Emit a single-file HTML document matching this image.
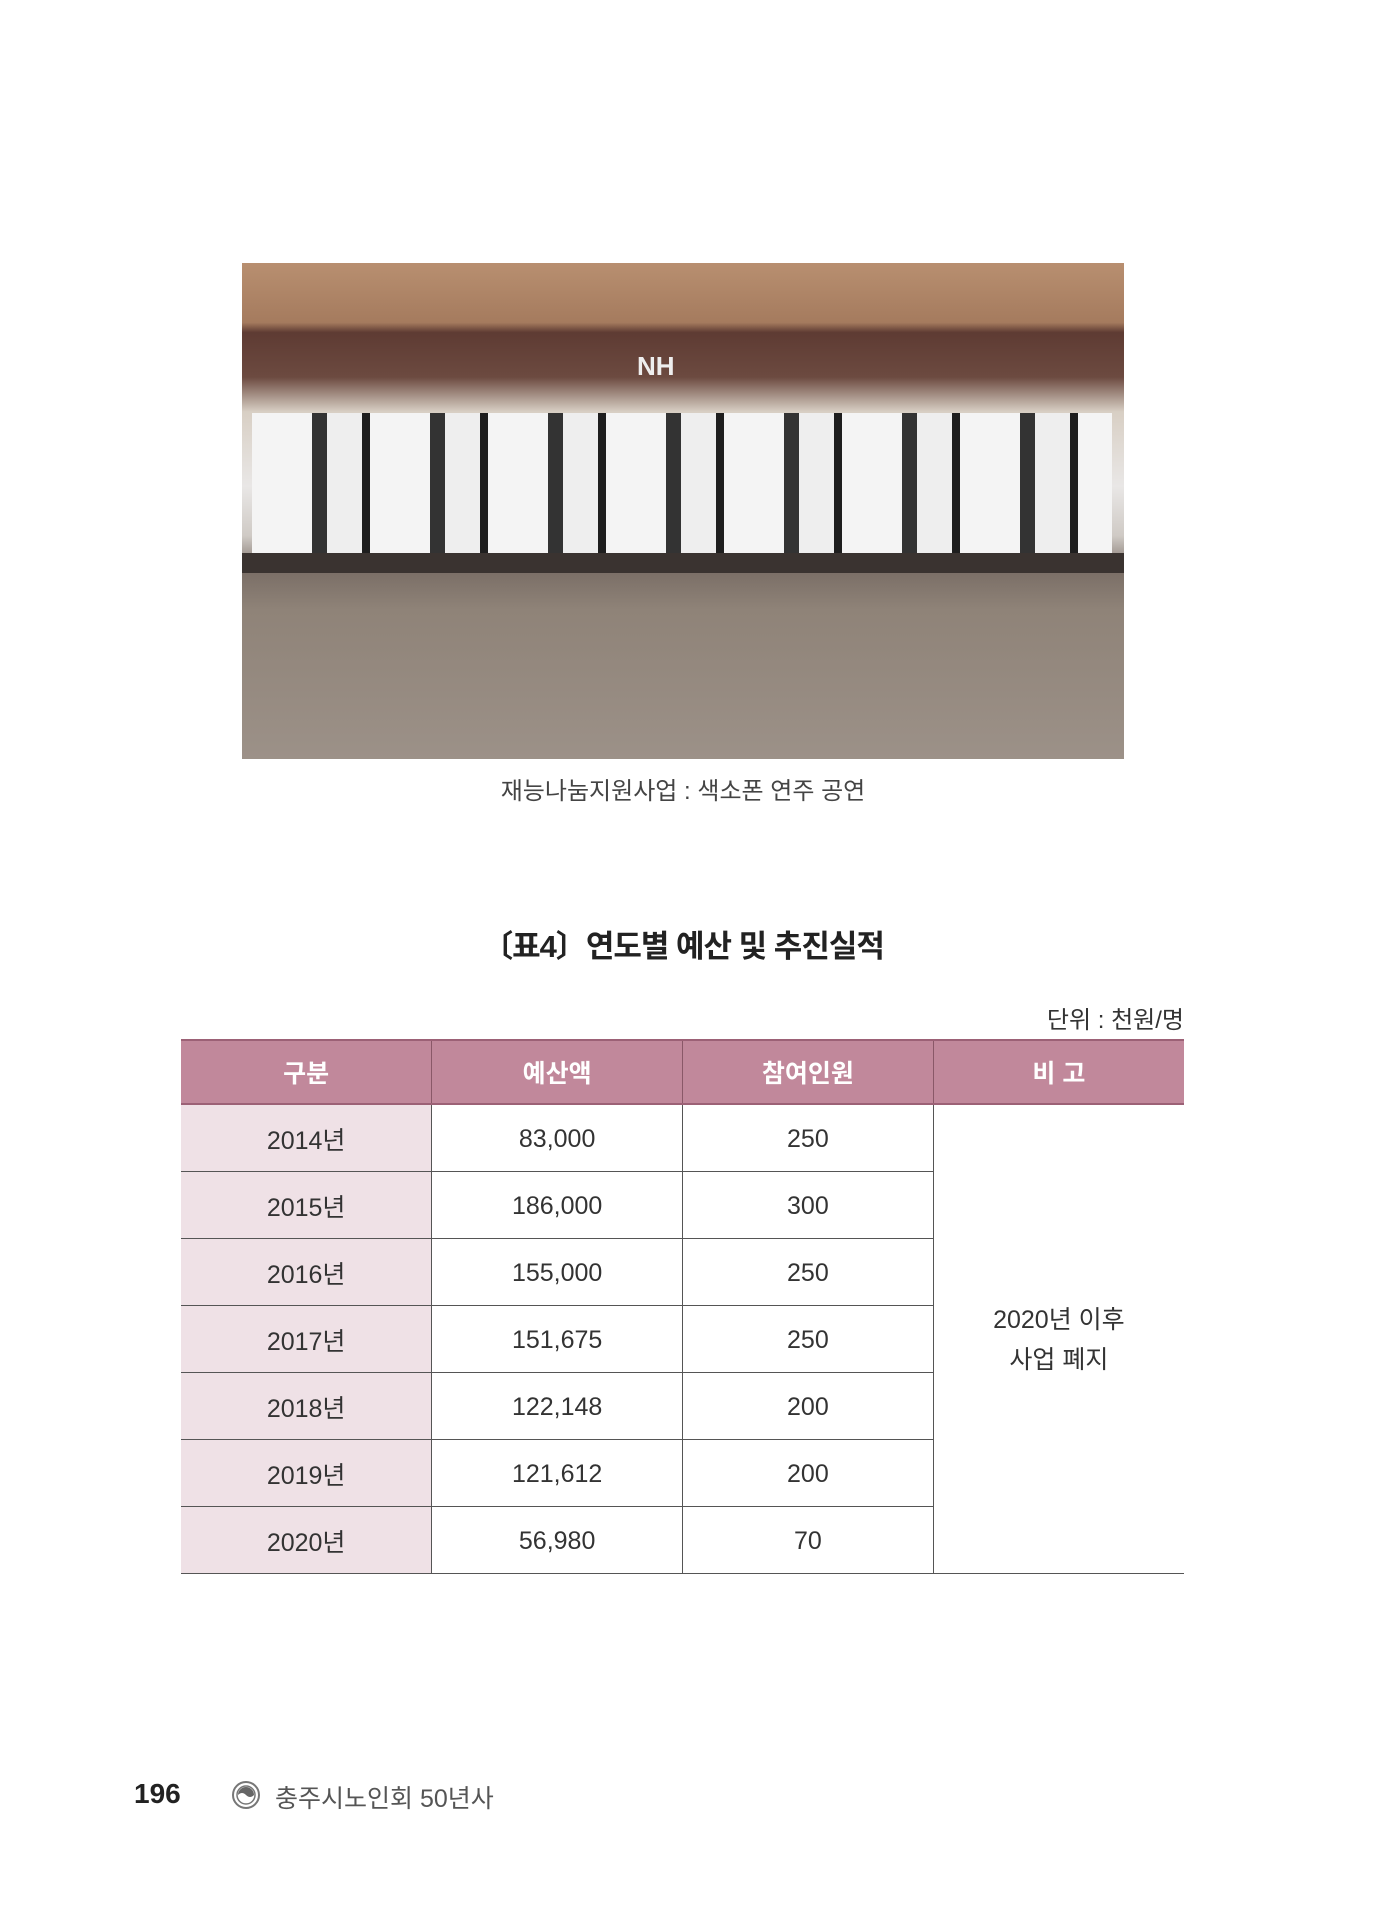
<!DOCTYPE html>
<html><head><meta charset="utf-8"><style>
body{margin:0;width:1397px;height:1920px;background:#fff;position:relative;font-family:"Liberation Sans","Noto Sans CJK KR",sans-serif;overflow:hidden}
.a{position:absolute}
table{border-collapse:collapse;position:absolute;left:181px;top:1039px;width:1003px;table-layout:fixed}
td,th{height:67px;text-align:center;font-size:25px;color:#333;font-weight:normal;border-left:1px solid #555;padding:3px 0 0 0;box-sizing:border-box}
td:first-child,th:first-child{border-left:none}
th{background:#c1889b;color:#fff;font-weight:bold;height:64px;padding:0;border-top:2px solid #9c6176;border-bottom:2px solid #9c6176;border-left:1px solid #8a5868}
tr.r td{border-bottom:1px solid #555}
td.y{background:#efe1e6}
</style></head><body>
<div class="a" style="left:242px;top:263px;width:882px;height:496px;background:linear-gradient(#b88f70 0%,#a57b5e 12%,#5e3b33 14%,#6c4a40 23%,#d8cfc4 30%,#e9e7e6 45%,#cfcac5 55%,#7a6e66 62%,#8f8378 70%,#9c9188 100%);overflow:hidden">
<div class="a" style="left:395px;top:88px;font:bold 26px 'Liberation Sans';color:#eee">NH</div>
<div class="a" style="left:10px;top:150px;width:860px;height:150px;background:repeating-linear-gradient(90deg,#f4f4f4 0 60px,#333 60px 75px,#eee 75px 110px,#1e1e1e 110px 118px)"></div>
<div class="a" style="left:0;top:290px;width:882px;height:20px;background:#3a3330"></div>
</div>
<div class="a" style="left:242px;width:882px;top:771px;text-align:center;font-size:24px;color:#444">재능나눔지원사업 : 색소폰 연주 공연</div>
<div class="a" style="left:242px;width:882px;top:921px;text-align:center;font-size:31px;font-weight:bold;color:#222;letter-spacing:-1px">〔표4〕연도별 예산 및 추진실적</div>
<div class="a" style="right:213px;top:1000px;font-size:24px;color:#333">단위 : 천원/명</div>
<table>
<tr><th>구분</th><th>예산액</th><th>참여인원</th><th>비 고</th></tr>
<tr class="r"><td class="y">2014년</td><td>83,000</td><td>250</td><td rowspan="7" style="border-bottom:1px solid #555;line-height:40px">2020년 이후<br>사업 폐지</td></tr>
<tr class="r"><td class="y">2015년</td><td>186,000</td><td>300</td></tr>
<tr class="r"><td class="y">2016년</td><td>155,000</td><td>250</td></tr>
<tr class="r"><td class="y">2017년</td><td>151,675</td><td>250</td></tr>
<tr class="r"><td class="y">2018년</td><td>122,148</td><td>200</td></tr>
<tr class="r"><td class="y">2019년</td><td>121,612</td><td>200</td></tr>
<tr class="r"><td class="y">2020년</td><td>56,980</td><td>70</td></tr>
</table>
<div class="a" style="left:134px;top:1778px;font-size:28px;font-weight:bold;color:#222">196</div>
<svg class="a" style="left:231px;top:1780px" width="30" height="30"><circle cx="15" cy="15" r="13" fill="none" stroke="#777" stroke-width="2"/><circle cx="15" cy="15" r="9" fill="none" stroke="#777" stroke-width="1.5"/><path d="M7 15a8 8 0 0 1 16 0q-4 4-8 0t-8 0z" fill="#666"/></svg>
<div class="a" style="left:275px;top:1779px;font-size:25px;color:#555">충주시노인회 50년사</div>
</body></html>
